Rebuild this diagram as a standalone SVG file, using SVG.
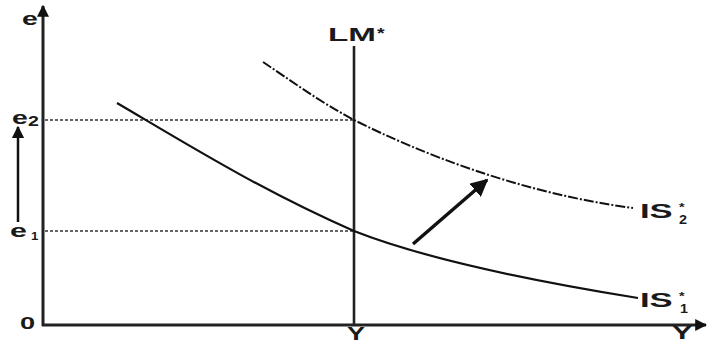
<svg xmlns="http://www.w3.org/2000/svg" width="710" height="345" viewBox="0 0 710 345">
<defs>
<style>
.t{font-family:"Liberation Sans",Arial,sans-serif;font-weight:bold;fill:#1a1a1a}
.axis{stroke:#222;stroke-width:3;fill:none}
.guide{stroke:#333;stroke-width:1.3;stroke-dasharray:3 2;fill:none}
.curve{stroke:#111;stroke-width:2.2;fill:none}
.dash{stroke:#111;stroke-width:2;stroke-dasharray:10 2 2 2;fill:none}
</style>
<marker id="ah" viewBox="0 0 10 10" refX="9" refY="5" markerWidth="5" markerHeight="5" orient="auto" markerUnits="strokeWidth">
<path d="M0,0 L10,5 L0,10 z" fill="#111"/>
</marker>
<marker id="ah2" viewBox="0 0 10 10" refX="9" refY="5" markerWidth="4" markerHeight="4" orient="auto" markerUnits="strokeWidth">
<path d="M0,0 L10,5 L0,10 z" fill="#111"/>
</marker>
</defs>
<rect width="710" height="345" fill="#fff"/>
<g id="connectors">
<line class="axis" x1="43" y1="326" x2="43" y2="6" marker-end="url(#ah2)"/>
<line class="axis" x1="42" y1="325" x2="706" y2="325" marker-end="url(#ah2)"/>
<line class="guide" x1="45" y1="120" x2="354" y2="120"/>
<line class="guide" x1="45" y1="231" x2="354" y2="231"/>
<line x1="18" y1="222" x2="18" y2="127" stroke="#111" stroke-width="2.5" marker-end="url(#ah)"/>
<line x1="413" y1="244" x2="487" y2="180" stroke="#111" stroke-width="3.5" marker-end="url(#ah)"/>
</g>
<g id="LM">
<line x1="354" y1="46" x2="354" y2="325" stroke="#222" stroke-width="2.6"/>
<text class="t" transform="translate(328,41) scale(1.75,1)" font-size="19">LM</text>
<text class="t" transform="translate(377,38) scale(1.4,1)" font-size="14">*</text>
</g>
<g id="IS1">
<path class="curve" d="M117,103 C180,140 260,190 354,231 C420,257 520,279 638,298"/>
<text class="t" transform="translate(640,307) scale(1.65,1)" font-size="21">IS</text>
<text class="t" transform="translate(679,300) scale(1.3,1)" font-size="11">*</text>
<text class="t" transform="translate(680,313) scale(1.2,1)" font-size="12">1</text>
</g>
<g id="IS2">
<path class="dash" d="M263,62 C290,80 320,102 354,120 C420,153 520,193 633,208"/>
<text class="t" transform="translate(640,218) scale(1.65,1)" font-size="21">IS</text>
<text class="t" transform="translate(679,211) scale(1.3,1)" font-size="11">*</text>
<text class="t" transform="translate(679,224) scale(1.2,1)" font-size="12">2</text>
</g>
<g id="labels">
<text class="t" transform="translate(22,25) scale(1.5,1)" font-size="19">e</text>
<text class="t" transform="translate(12,124) scale(1.5,1)" font-size="19">e</text>
<text class="t" transform="translate(28,126) scale(1.4,1)" font-size="14">2</text>
<text class="t" transform="translate(10,237) scale(1.6,1)" font-size="19">e</text>
<text class="t" transform="translate(31,240) scale(1.2,1)" font-size="11">1</text>
<text class="t" transform="translate(20,329) scale(1.6,1)" font-size="17">0</text>
<text class="t" transform="translate(347,340) scale(1.5,1)" font-size="18">Y</text>
<text class="t" transform="translate(672,339) scale(1.7,1)" font-size="18">Y</text>
</g>
</svg>
